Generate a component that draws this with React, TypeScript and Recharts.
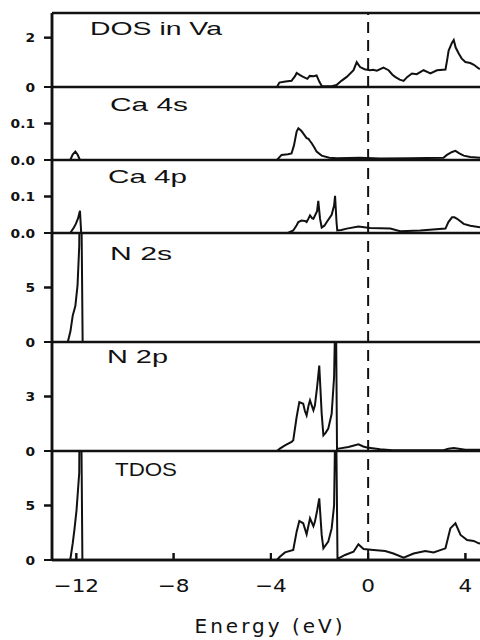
import React from "react";
import { LineChart, Line, XAxis, YAxis, ReferenceLine } from "recharts";

type Pt = [number, number];

// energy (eV) vs DOS
const energyTicks = [-12, -8, -4, 0, 4];

const vaDos: Pt[] = [
  [-13, 0], [-3.75, 0], [-3.65, 0.18], [-3.4, 0.22], [-3.15, 0.25], [-3.0, 0.45], [-2.94, 0.57],
  [-2.8, 0.48], [-2.67, 0.41], [-2.5, 0.33], [-2.4, 0.45], [-2.25, 0.44], [-2.12, 0.47], [-2.0, 0.2],
  [-1.9, 0.03], [-1.5, 0.03], [-1.3, 0.08], [-1.1, 0.25], [-0.88, 0.41], [-0.6, 0.68], [-0.47, 1.01],
  [-0.33, 0.81], [-0.15, 0.72], [0.08, 0.68], [0.2, 0.7], [0.36, 0.66], [0.63, 0.79], [0.84, 0.68],
  [1.0, 0.5], [1.11, 0.41], [1.3, 0.3], [1.46, 0.25], [1.6, 0.4], [1.8, 0.55], [2.0, 0.52], [2.28, 0.68],
  [2.45, 0.6], [2.56, 0.55], [2.83, 0.68], [3.18, 0.71], [3.25, 1.1], [3.31, 1.48], [3.45, 1.8],
  [3.52, 1.91], [3.6, 1.6], [3.73, 1.35], [3.85, 1.15], [4.0, 1.01], [4.2, 0.97], [4.35, 0.9],
  [4.55, 0.75], [4.6, 0.74],
];

const ca4s: Pt[] = [
  [-13, 0], [-12.25, 0], [-12.15, 0.015], [-12.04, 0.023], [-11.95, 0.015], [-11.85, 0], [-3.75, 0],
  [-3.56, 0.014], [-3.3, 0.016], [-3.15, 0.018], [-3.05, 0.04], [-2.94, 0.078], [-2.87, 0.087],
  [-2.75, 0.08], [-2.67, 0.073], [-2.53, 0.06], [-2.45, 0.058], [-2.39, 0.052], [-2.32, 0.046],
  [-2.2, 0.033], [-2.12, 0.023], [-1.91, 0.012], [-1.6, 0.006], [-1.29, 0.005], [-0.33, 0.006],
  [0.5, 0.004], [1.73, 0.005], [3.1, 0.006], [3.24, 0.014], [3.45, 0.022], [3.59, 0.025],
  [3.75, 0.018], [3.93, 0.012], [4.2, 0.008], [4.6, 0.006],
];

const ca4p: Pt[] = [
  [-13, 0], [-12.25, 0], [-12.1, 0.015], [-12.02, 0.025], [-11.93, 0.04], [-11.85, 0.061], [-11.8, 0],
  [-3.3, 0], [-3.08, 0.007], [-2.94, 0.021], [-2.87, 0.03], [-2.74, 0.034], [-2.6, 0.033], [-2.53, 0.03],
  [-2.45, 0.04], [-2.39, 0.048], [-2.3, 0.04], [-2.25, 0.039], [-2.1, 0.06], [-2.05, 0.088],
  [-1.98, 0.04], [-1.91, 0.015], [-1.8, 0.02], [-1.7, 0.03], [-1.5, 0.05], [-1.4, 0.075],
  [-1.36, 0.102], [-1.3, 0.03], [-1.27, 0.007], [-1.1, 0.008], [-0.88, 0.012], [-0.4, 0.018],
  [0.08, 0.014], [0.91, 0.012], [1.32, 0.005], [2.14, 0.007], [3.18, 0.012], [3.3, 0.03],
  [3.45, 0.043], [3.55, 0.043], [3.66, 0.039], [3.93, 0.025], [4.2, 0.02], [4.6, 0.016],
];

const n2s: Pt[] = [
  [-13, 0], [-12.35, 0], [-12.24, 1.0], [-12.15, 2.4], [-12.04, 3.3], [-11.95, 5.2], [-11.88, 8.8],
  [-11.83, 22], [-11.74, 0], [4.6, 0],
];

const n2p: Pt[] = [
  [-13, 0], [-3.75, 0], [-3.63, 0.13], [-3.42, 0.31], [-3.15, 0.5], [-3.08, 0.59], [-2.94, 1.87],
  [-2.83, 2.69], [-2.67, 2.6], [-2.6, 2.2], [-2.53, 1.96], [-2.45, 2.5], [-2.39, 2.79], [-2.25, 2.24],
  [-2.19, 2.5], [-2.1, 3.5], [-2.01, 4.7], [-1.91, 2.05], [-1.84, 0.86], [-1.75, 1.0], [-1.64, 1.23],
  [-1.5, 2.05], [-1.4, 4.07], [-1.33, 9], [-1.28, 0.1], [-1.22, 0.13], [-0.81, 0.22], [-0.4, 0.37],
  [-0.2, 0.25], [-0.05, 0.19], [0.49, 0.1], [1.0, 0.04], [3.1, 0.04], [3.3, 0.12], [3.52, 0.16],
  [4.0, 0.07], [4.6, 0.07],
];

const tdos: Pt[] = [
  [-13, 0], [-12.25, 0], [-12.15, 1.5], [-12.08, 2.75], [-11.99, 4.6], [-11.88, 8], [-11.84, 25],
  [-11.75, 0], [-3.75, 0], [-3.63, 0.3], [-3.42, 0.7], [-3.08, 0.92], [-2.94, 2.6], [-2.83, 3.58],
  [-2.67, 3.37], [-2.53, 2.36], [-2.39, 3.83], [-2.25, 3.1], [-2.19, 3.5], [-2.1, 4.5], [-2.01, 5.66],
  [-1.91, 2.3], [-1.84, 1.07], [-1.64, 1.68], [-1.5, 2.9], [-1.4, 5.0], [-1.33, 16], [-1.26, 0.1],
  [-0.95, 0.46], [-0.6, 0.76], [-0.4, 1.44], [-0.19, 1.0], [0.22, 0.92], [0.7, 0.83], [1.04, 0.6],
  [1.46, 0.21], [1.87, 0.6], [2.35, 0.83], [2.69, 0.7], [3.18, 1.07], [3.38, 2.9], [3.59, 3.37],
  [3.8, 2.3], [4.07, 1.83], [4.34, 1.75], [4.55, 1.53], [4.6, 1.5],
];

const panels = [
  { name: "DOS in Va", pts: vaDos, max: 3, ticks: [0, 2], dec: 0, top: 13, h: 74, lx: 90, lw: 132, ly: 35 },
  { name: "Ca 4s", pts: ca4s, max: 0.2, ticks: [0, 0.1], dec: 1, top: 87, h: 73, lx: 110, lw: 78, ly: 111 },
  { name: "Ca 4p", pts: ca4p, max: 0.2, ticks: [0, 0.1], dec: 1, top: 160, h: 73, lx: 108, lw: 79, ly: 183 },
  { name: "N 2s", pts: n2s, max: 10, ticks: [0, 5], dec: 0, top: 233, h: 109, lx: 110, lw: 62, ly: 260 },
  { name: "N 2p", pts: n2p, max: 6, ticks: [0, 3], dec: 0, top: 342, h: 109, lx: 107, lw: 61, ly: 363 },
  { name: "TDOS", pts: tdos, max: 10, ticks: [0, 5], dec: 0, top: 451, h: 109, lx: 115, lw: 62, ly: 476 },
];

const W = 480;
const PAD = 10;
const AXIS_W = 52;
const XAXIS_H = 80;
const X_MIN = -13;
const X_MAX = 4.6;
const INK = "#111";

const YTick = ({ x, y, payload, dec }: any) => (
  <g transform={`translate(${x},${y})`}>
    <line x1={9} x2={17} y1={0} y2={0} stroke={INK} strokeWidth={2} />
    <text
      transform="scale(1.15,1)"
      textAnchor="end"
      dy={4.5}
      fontFamily="DejaVu Sans"
      fontWeight="bold"
      fontSize={12}
      fill={INK}
    >
      {Number(payload.value).toFixed(dec)}
    </text>
  </g>
);

const XTick = ({ x, y, payload }: any) => {
  const v = Number(payload.value);
  const txt = v < 0 ? "\u2212" + Math.abs(v) : String(v);
  return (
    <g transform={`translate(${x},${y})`}>
      <line x1={0} x2={0} y1={-7} y2={0} stroke={INK} strokeWidth={2} />
      <text transform="scale(1.2,1)" textAnchor="middle" dy={32} fontFamily="DejaVu Sans" fontSize={18} fill={INK}>
        {txt}
      </text>
    </g>
  );
};

export default function App() {
  return (
    <div style={{ position: "absolute", left: 0, top: 0, width: W, height: 640, background: "#fff" }}>
      {panels.map((p, i) => {
        const last = i === panels.length - 1;
        const rows = p.pts.map(([e, v]) => ({ e, v }));
        const height = PAD + p.h + (last ? XAXIS_H : PAD);
        return (
          <div key={p.name} style={{ position: "absolute", left: 0, top: p.top - PAD }}>
            <LineChart
              width={W}
              height={height}
              data={rows}
              margin={{ top: PAD, right: 0, bottom: last ? 0 : PAD, left: 0 }}
            >
              {last ? (
                <XAxis
                  dataKey="e"
                  type="number"
                  domain={[X_MIN, X_MAX]}
                  allowDataOverflow
                  ticks={energyTicks}
                  height={XAXIS_H}
                  tickSize={-7}
                  tickMargin={7}
                  tick={<XTick />}
                  axisLine={{ stroke: INK, strokeWidth: 2.5 }}
                  tickLine={{ stroke: INK, strokeWidth: 2 }}
                  label={{
                    value: "Energy (eV)",
                    position: "insideBottom",
                    offset: 7,
                    dx: 4,
                    fontSize: 20,
                    letterSpacing: 3,
                    fontFamily: "DejaVu Sans",
                    fill: INK,
                  }}
                />
              ) : (
                <XAxis
                  dataKey="e"
                  type="number"
                  domain={[X_MIN, X_MAX]}
                  allowDataOverflow
                  ticks={energyTicks}
                  height={0}
                  tick={false}
                  tickLine={false}
                  axisLine={{ stroke: INK, strokeWidth: 2.5 }}
                />
              )}
              <YAxis
                dataKey="v"
                type="number"
                domain={[0, p.max]}
                allowDataOverflow
                ticks={p.ticks}
                width={AXIS_W}
                tickSize={8}
                tickMargin={9}
                tick={<YTick dec={p.dec} />}
                axisLine={{ stroke: INK, strokeWidth: 2.5 }}
                tickLine={{ stroke: INK, strokeWidth: 2 }}
                interval={0}
              />
              <ReferenceLine x={X_MIN} stroke={INK} strokeWidth={2.5} ifOverflow="visible" />
              <ReferenceLine y={0} stroke={INK} strokeWidth={2.5} ifOverflow="visible" />
              {i === 0 && <ReferenceLine y={p.max} stroke={INK} strokeWidth={2.5} ifOverflow="visible" />}
              <ReferenceLine x={0} stroke={INK} strokeWidth={2} strokeDasharray="11 7" />
              <Line
                dataKey="v"
                type="linear"
                stroke={INK}
                strokeWidth={2}
                dot={false}
                isAnimationActive={false}
              />
            </LineChart>
          </div>
        );
      })}
      <svg width={W} height={640} style={{ position: "absolute", left: 0, top: 0, pointerEvents: "none" }}>
        {panels.map((p) => (
          <text
            key={p.name}
            x={p.lx}
            y={p.ly}
            textLength={p.lw}
            lengthAdjust="spacingAndGlyphs"
            fontFamily="Liberation Sans"
            fontSize={19}
            fill={INK}
          >
            {p.name}
          </text>
        ))}
      </svg>
    </div>
  );
}
